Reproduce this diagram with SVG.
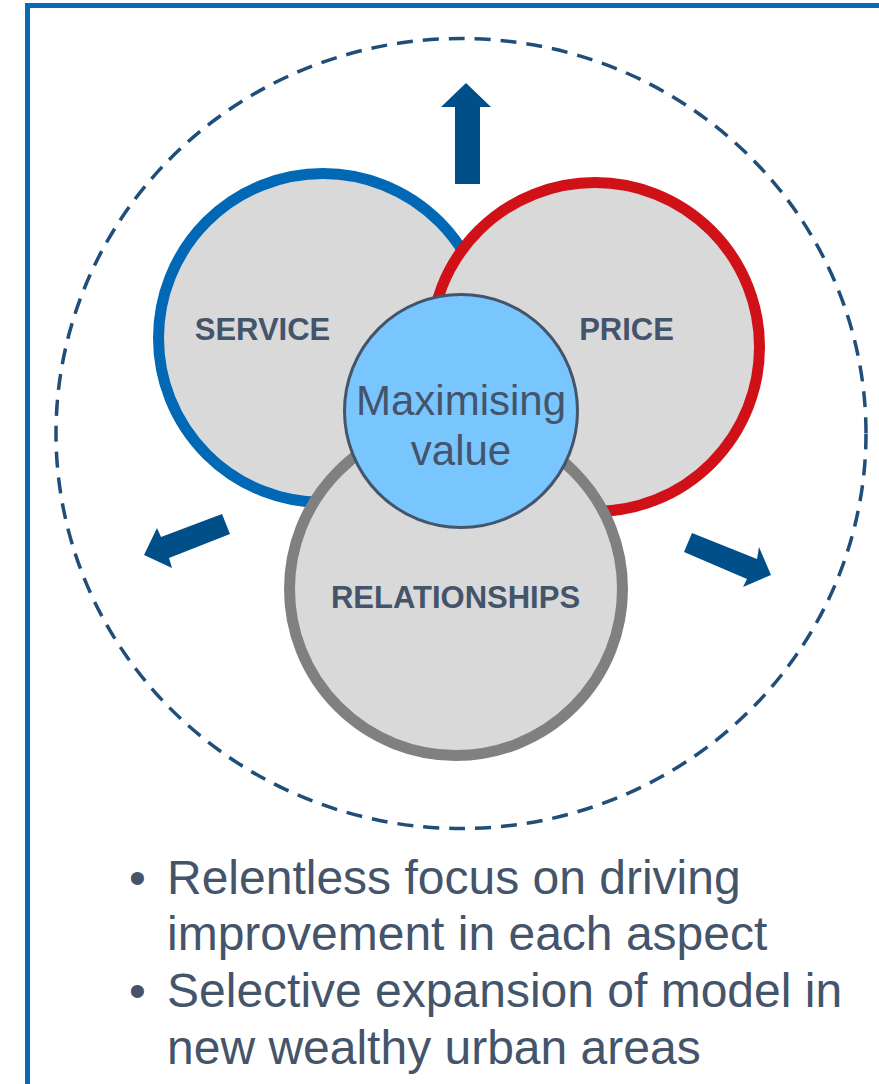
<svg xmlns="http://www.w3.org/2000/svg" width="879" height="1084" viewBox="0 0 879 1084">
<style>
.lbl{font-family:"Liberation Sans",Arial,sans-serif;font-weight:bold;font-size:31px;fill:#44546a;text-anchor:middle}
.ctr{font-family:"Liberation Sans",Arial,sans-serif;font-size:42px;fill:#44546a;text-anchor:middle}
.bul{font-family:"Liberation Sans",Arial,sans-serif;font-size:48px;fill:#44546a}
.ring{fill:#d9d9d9;stroke-width:11}
.arr{fill:#004f88}
</style>
<rect x="0" y="0" width="879" height="1084" fill="#ffffff"/>
<rect x="27.5" y="5.5" width="900" height="1100" fill="none" stroke="#0a6bb5" stroke-width="5"/>
<g id="boundary">
<ellipse cx="461" cy="433.5" rx="405" ry="395" fill="none" stroke="#1f4e79" stroke-width="3.5" stroke-dasharray="16 10"/>
</g>
<g id="connectors">
<polygon class="arr" points="455,184 480,184 480,107 491,107 466,83 441,107 455,107"/>
<polygon class="arr" points="222,514 230,534 169,558 172,568 144,555 157,528 161,537"/>
<polygon class="arr" points="692,533 757,559 759,547 771,575 743,587 747,579 684,552"/>
</g>
<g id="service">
<circle class="ring" cx="323" cy="338" r="164.5" stroke="#0068b4"/>
<text class="lbl" x="262.5" y="340">SERVICE</text>
</g>
<g id="price">
<circle class="ring" cx="595" cy="347" r="164.5" stroke="#d01218"/>
<text class="lbl" x="626.5" y="340">PRICE</text>
</g>
<g id="relationships">
<circle class="ring" cx="456" cy="589" r="166.5" stroke="#808080"/>
<text class="lbl" x="455.5" y="608">RELATIONSHIPS</text>
</g>
<g id="maximising-value">
<circle cx="461" cy="411" r="116.5" fill="#79c5fd" stroke="#44546a" stroke-width="3"/>
<text class="ctr" x="461" y="415">Maximising</text>
<text class="ctr" x="461" y="465">value</text>
</g>
<g id="bullets">
<text class="bul" x="129" y="894">•</text>
<text class="bul" x="167" y="894">Relentless focus on driving</text>
<text class="bul" x="167" y="950">improvement in each aspect</text>
<text class="bul" x="129" y="1007">•</text>
<text class="bul" x="167" y="1007">Selective expansion of model in</text>
<text class="bul" x="167" y="1064">new wealthy urban areas</text>
</g>
</svg>
